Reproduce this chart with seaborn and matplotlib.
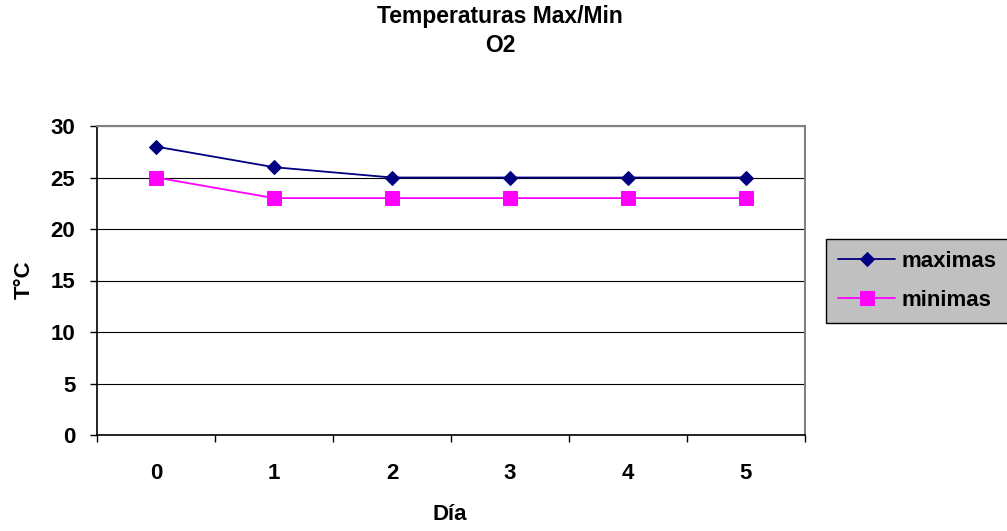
import matplotlib
matplotlib.use("Agg")
import matplotlib.pyplot as plt
import seaborn as sns
import pandas as pd

dias = [0, 1, 2, 3, 4, 5]
maximas = [28, 26, 25, 25, 25, 25]
minimas = [25, 23, 23, 23, 23, 23]
y_ticks = [0, 5, 10, 15, 20, 25, 30]

sns.set_theme(style="white")
plt.rcParams["font.family"] = ["Liberation Sans", "DejaVu Sans"]
plt.rcParams["font.weight"] = "bold"
plt.rcParams["text.color"] = "black"
plt.rcParams["axes.labelcolor"] = "black"
plt.rcParams["xtick.color"] = "black"
plt.rcParams["ytick.color"] = "black"

FS = 16

fig = plt.figure(figsize=(10.07, 5.31), dpi=100)
ax = fig.add_axes([97 / 1007, 1 - 435 / 531, 708 / 1007, 309 / 531])

df = pd.DataFrame({"dia": dias, "maximas": maximas, "minimas": minimas})

sns.lineplot(data=df, x="dia", y="maximas", ax=ax, color="#000080", lw=1.3,
             marker="D", markersize=7.5, markeredgecolor="#000080",
             markerfacecolor="#000080", label="maximas")
sns.lineplot(data=df, x="dia", y="minimas", ax=ax, color="#FF00FF", lw=1.3,
             marker="s", markersize=9.5, markeredgecolor="#FF00FF",
             markerfacecolor="#FF00FF", label="minimas")

ax.set_xlim(-0.5, 5.5)
ax.set_ylim(0, 30)
ax.set_yticks(y_ticks)
ax.set_yticklabels([str(v) for v in y_ticks], fontsize=FS, fontweight="bold")
ax.set_xticks(dias)
ax.set_xticklabels([str(d) for d in dias], fontsize=FS, fontweight="bold")
ax.tick_params(axis="x", length=0, pad=20)
ax.tick_params(axis="y", length=5, width=1, color="black", direction="out",
               left=True, pad=10.5)
# category boundary ticks on the x axis
ax.set_xticks([d - 0.5 for d in dias] + [5.5], minor=True)
ax.tick_params(axis="x", which="minor", length=5, width=1, color="black",
               direction="out", bottom=True)

ax.grid(axis="y", color="black", lw=0.8)
ax.grid(axis="x", visible=False)
ax.set_axisbelow(True)

for side in ["top", "right"]:
    ax.spines[side].set_color("#808080")
    ax.spines[side].set_linewidth(1.5)
for side in ["left", "bottom"]:
    ax.spines[side].set_color("black")
    ax.spines[side].set_linewidth(1.2)

ax.set_xlabel("Día", fontsize=FS, fontweight="bold", labelpad=0)
ax.xaxis.set_label_coords((450 - 97) / 708, -(504 - 435) / 309)
ax.set_ylabel("T°C", fontsize=FS, fontweight="bold")
ax.yaxis.set_label_coords(-(97 - 35) / 708, (435 - 280) / 309)

fig.text(500 / 1007, 1 - 16 / 531, "Temperaturas Max/Min", ha="center",
         va="center", fontsize=16.5, fontweight="bold")
fig.text(500 / 1007, 1 - 46 / 531, "O2", ha="center", va="center",
         fontsize=16.5, fontweight="bold")

leg = ax.legend(loc="upper left", bbox_to_anchor=(826 / 1007, 1 - 239 / 531),
                bbox_transform=fig.transFigure, frameon=True, fancybox=False,
                facecolor="#C0C0C0", edgecolor="black", framealpha=1,
                prop={"size": FS, "weight": "bold"}, handlelength=2.55,
                borderpad=0.55, labelspacing=0.78, handletextpad=0.3,
                borderaxespad=0)
leg.get_frame().set_linewidth(1)

fig.savefig("out.png", dpi=100)
